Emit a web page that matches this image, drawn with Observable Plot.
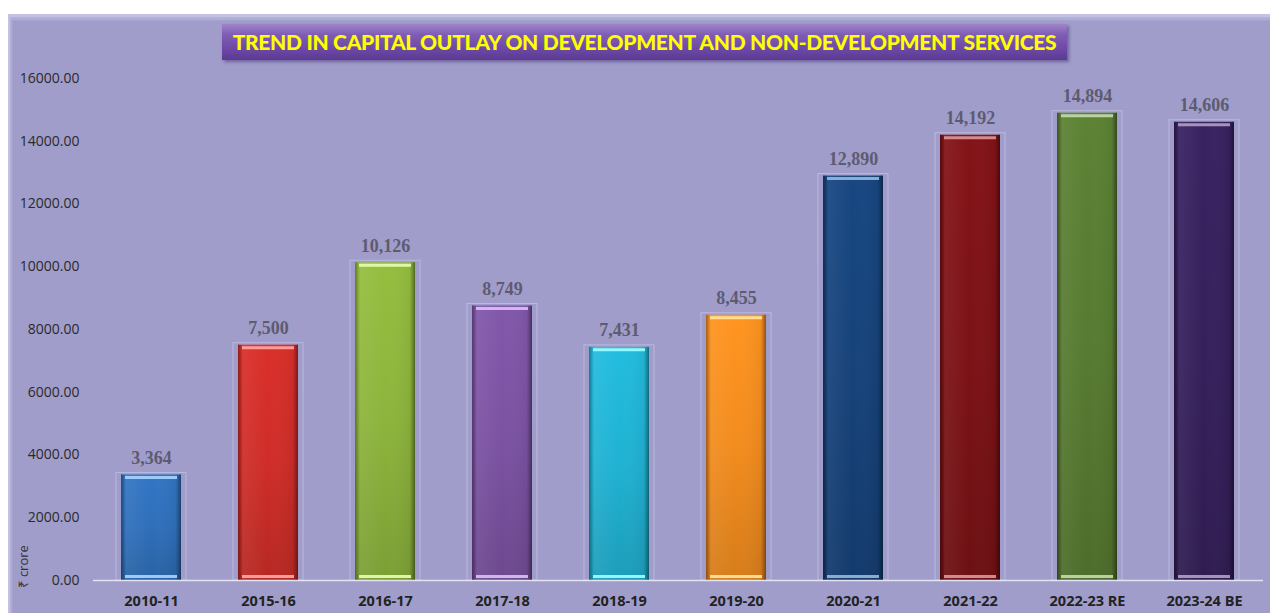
<!DOCTYPE html>
<html>
<head>
<meta charset="utf-8">
<script src="https://cdn.jsdelivr.net/npm/d3@7"></script>
<script src="https://cdn.jsdelivr.net/npm/@observablehq/plot@0.6"></script>
<style>
  html, body { margin: 0; padding: 0; background: #ffffff; width: 1270px; height: 613px; overflow: hidden; }
  #panel {
    position: absolute; left: 8px; top: 14px; width: 1262px; height: 599px;
    background: #a09dcb;
    box-shadow: inset 2px 3px 0 #c4c2e2, inset 4px 6px 2px #b3b1d8;
  }
  #title {
    position: absolute; left: 214px; top: 10px; width: 845px; height: 36px;
    background: linear-gradient(#a085c9 0%, #7f5cb4 30%, #6f4ba8 65%, #5a3a92 100%);
    box-shadow: 2px 2px 3px rgba(60,40,110,0.5);
    color: #ffff00; font-family: Lato, "Open Sans", sans-serif; font-weight: 900;
    font-size: 21px; line-height: 36px; text-align: center; white-space: nowrap;
    letter-spacing: -0.3px;
  }
  #chart { position: absolute; left: 0; top: 48px; }
</style>
</head>
<body>
<div id="panel">
  <div id="title">TREND IN CAPITAL OUTLAY ON DEVELOPMENT AND NON-DEVELOPMENT SERVICES</div>
  <div id="chart"></div>
</div>
<script>
const years = ["2010-11","2015-16","2016-17","2017-18","2018-19","2019-20","2020-21","2021-22","2022-23 RE","2023-24 BE"];
const values = [3364, 7500, 10126, 8749, 7431, 8455, 12890, 14192, 14894, 14606];
const baseColors = ["#2f6fba","#cf2d28","#8db43c","#7b52a2","#20b2d3","#f28c1e","#16427a","#7c1216","#577b31","#36205c"];
const yTicks = [0, 2000, 4000, 6000, 8000, 10000, 12000, 14000, 16000];

const data = years.map((y, i) => ({
  year: y, value: values[i], grad: `url(#g${i})`,
  hi: d3.interpolateRgb(d3.color(baseColors[i]).brighter(1), "#ffffff")(0.55)
}));

const chart = Plot.plot({
  width: 1262,
  height: 551,
  marginTop: 16,
  marginBottom: 33,
  marginLeft: 85,
  marginRight: 7,
  style: {background: "transparent", overflow: "visible"},
  x: {domain: years, paddingInner: 0.4, paddingOuter: 0.2, label: null},
  y: {domain: [0, 16000], label: null},
  color: {type: "identity"},
  marks: [
    Plot.axisY({ticks: yTicks, tickFormat: d3.format(".2f"), tickSize: 0, tickPadding: 14,
      fontSize: 14, fill: "#2a2a2a", fontFamily: "'Open Sans', sans-serif", label: null}),
    Plot.axisX({tickSize: 0, tickPadding: 15, fontSize: 14.5, fontWeight: "bold",
      fill: "#222", fontFamily: "'Open Sans', sans-serif", label: null}),
    Plot.text(["₹ crore"], {frameAnchor: "bottom-left", rotate: -90, textAnchor: "start",
      dx: -66, dy: 7, fontSize: 13, fill: "#333", fontFamily: "'Open Sans', sans-serif"}),
    // faint outline frame
    Plot.barY(data, {x: "year", y: "value", fill: "none", stroke: "#c6c4e6", strokeOpacity: 0.7, strokeWidth: 1, insetTop: -2}),
    // main bar with vertical gradient
    Plot.barY(data, {x: "year", y: "value", fill: "grad", insetLeft: 5, insetRight: 5}),
    // bevel overlay
    Plot.barY(data, {x: "year", y: "value", fill: "url(#bevel)", insetLeft: 5, insetRight: 5}),
    // top highlight
    Plot.tickY(data, {x: "year", y: "value", stroke: "hi", strokeOpacity: 0.9, strokeWidth: 3, insetLeft: 9, insetRight: 9, dy: 2.5}),
    // bottom highlight
    Plot.tickY(data, {x: "year", y: 0, stroke: "hi", strokeOpacity: 0.9, strokeWidth: 3, insetLeft: 9, insetRight: 9, dy: -4}),
    Plot.ruleY([0], {stroke: "#e4e3f2", strokeWidth: 1.5}),
    Plot.text(data, {x: "year", y: "value", text: d => d3.format(",")(d.value), dy: -17,
      fontSize: 18, fontWeight: "bold", fill: "#5e5b70", fontFamily: "'Liberation Serif', 'Times New Roman', serif"})
  ]
});

// gradients
const ns = "http://www.w3.org/2000/svg";
const defs = document.createElementNS(ns, "defs");
function stopsHTML(stops) {
  return stops.map(([o, c, op]) => `<stop offset="${o}" stop-color="${c}"${op !== undefined ? ` stop-opacity="${op}"` : ""}/>`).join("");
}
let html = "";
baseColors.forEach((c, i) => {
  const col = d3.color(c);
  html += `<linearGradient id="g${i}" x1="0" y1="0" x2="0" y2="1">${stopsHTML([
    [0, col.brighter(0.15).formatHex()], [0.5, col.formatHex()], [1, col.darker(0.35).formatHex()]
  ])}</linearGradient>`;
});
html += `<linearGradient id="bevel" x1="0" y1="0" x2="1" y2="0">${stopsHTML([
  [0, "#000", 0.35], [0.05, "#000", 0.12], [0.09, "#fff", 0.06], [0.5, "#fff", 0.0], [0.91, "#000", 0.05], [0.95, "#000", 0.2], [1, "#000", 0.45]
])}</linearGradient>`;
defs.innerHTML = html;
chart.insertBefore(defs, chart.firstChild);

document.getElementById("chart").appendChild(chart);
</script>
</body>
</html>
